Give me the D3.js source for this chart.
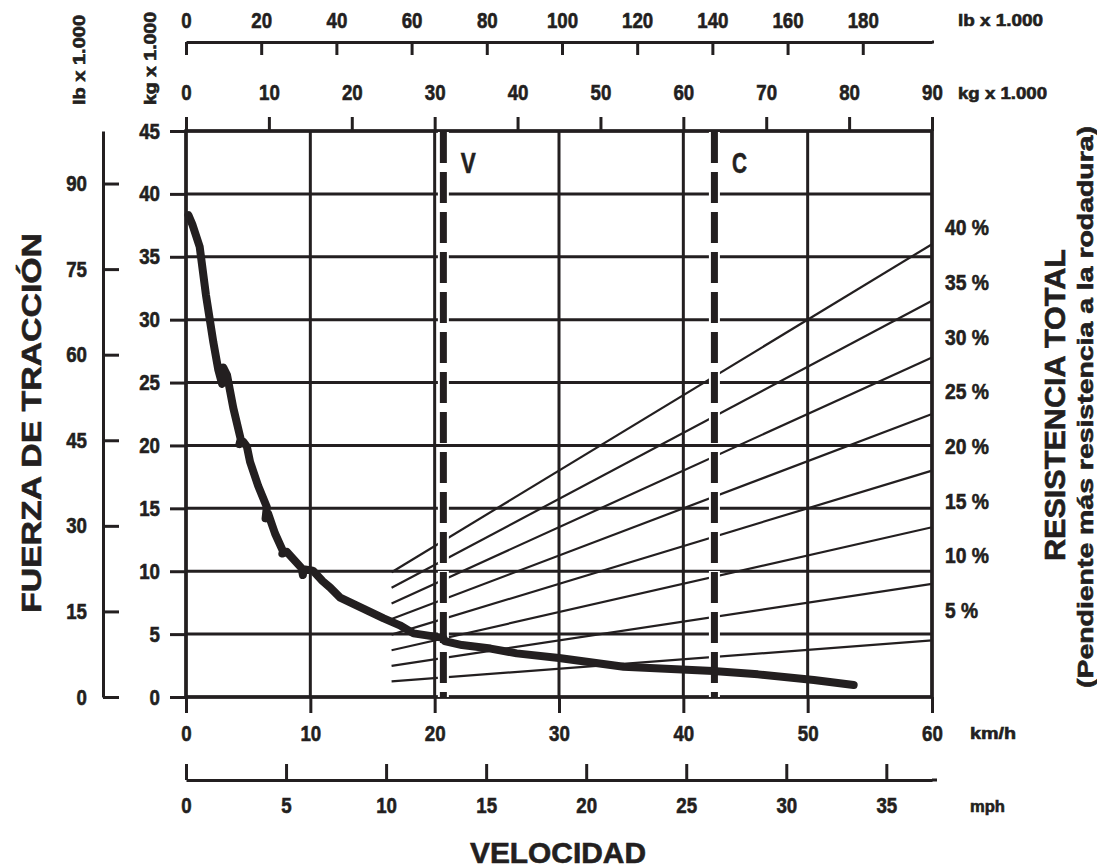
<!DOCTYPE html>
<html><head><meta charset="utf-8">
<script src="https://cdn.jsdelivr.net/npm/d3@7"></script>
<style>
html,body{margin:0;padding:0;background:#fff;}
svg{display:block;}
text{font-family:'Liberation Sans',Arial,sans-serif;font-weight:bold;fill:#231f20;stroke:#231f20;stroke-width:0.6px;}
</style></head>
<body><svg id="c" width="1097" height="868"></svg>
<script>
// ---- data ----
const kmhTicks = [0,10,20,30,40,50,60];
const mphTicks = [0,5,10,15,20,25,30,35];
const kgTopTicks = [0,10,20,30,40,50,60,70,80,90];
const lbTopTicks = [0,20,40,60,80,100,120,140,160,180];
const kgLeftTicks = [0,5,10,15,20,25,30,35,40,45];
const lbLeftTicks = [0,15,30,45,60,75,90];
const gradePct = [5,10,15,20,25,30,35,40];
const gradeWeightRange = [24.8, 90];          // kg x 1000 (gross weight)
const limitKmh = [20.7, 42.5];
const limitNames = ["V","C"];
const curveKmh = [0.2,0.5,1.1,1.6,2.2,2.6,2.9,3.0,3.0,3.3,3.8,4.4,4.3,4.6,4.9,5.15,5.8,6.5,6.4,6.6,7.16,7.8,7.75,8.1,9.3,9.4,9.45,10.2,11.0,11.6,12.4,14.3,15.9,17.2,18.3,20.7,20.8,22.2,24.5,26.6,30,35.2,42.4,46,50.5,53.7];
const curveKg  = [38.3,37.6,35.8,32.0,28.2,26.0,24.9,25.3,26.2,25.6,23.0,20.5,20.1,20.3,19.9,18.7,16.8,15.1,14.2,14.6,13.0,11.6,11.4,11.55,10.25,9.7,10.15,10.05,9.2,8.7,7.9,7.0,6.25,5.7,5.06,4.7,4.45,4.13,3.85,3.47,3.1,2.4,2.07,1.8,1.35,0.95];

// ---- layout ----
const ink = "#231f20";
const svg = d3.select("#c");
const L = 186, R = 932, T = 131, B = 697;
const x = d3.scaleLinear([0,60],[L,R]);
const xMph = d3.scaleLinear([0,60/1.609344],[L,R]);
const xKg = d3.scaleLinear([0,90],[L,R]);
const xLb = d3.scaleLinear([0,90*2.20462],[L,R]);
const y = d3.scaleLinear([0,45],[B,T]);
const yLb = d3.scaleLinear([0,45*2.20462],[B,T]);

function squeeze(sel, perChar){
  sel.each(function(){
    const n = this.textContent.length;
    d3.select(this).attr("textLength", n*perChar).attr("lengthAdjust","spacingAndGlyphs");
  });
}
function fit(sel, len){ sel.attr("textLength", len).attr("lengthAdjust","spacingAndGlyphs"); return sel; }

function styleAxis(g, fs, sw){
  g.attr("font-family", null).attr("font-size", null);
  g.selectAll("text").attr("font-size", fs).attr("fill",ink);
  g.selectAll("line").attr("stroke", ink).attr("stroke-width", sw);
  g.selectAll("path.domain").attr("stroke", ink).attr("stroke-width", sw);
  squeeze(g.selectAll("text"), 10.4);
}

// grid
const grid = svg.append("g");
grid.selectAll("line.h").data(kgLeftTicks).join("line")
  .attr("x1", L).attr("x2", R).attr("y1", d=>y(d)).attr("y2", d=>y(d))
  .attr("stroke", ink).attr("stroke-width", 3);
grid.selectAll("line.v").data(kmhTicks).join("line")
  .attr("x1", d=>x(d)).attr("x2", d=>x(d)).attr("y1", T).attr("y2", B)
  .attr("stroke", ink).attr("stroke-width", 3);

// axes
const gKgL = svg.append("g").attr("transform",`translate(${L},0)`)
  .call(d3.axisLeft(y).tickValues(kgLeftTicks).tickSizeInner(16).tickSizeOuter(0).tickPadding(10));
gKgL.select("path.domain").remove();
styleAxis(gKgL, 22, 3);

const gLbL = svg.append("g").attr("transform",`translate(103,0)`)
  .call(d3.axisLeft(yLb).tickValues(lbLeftTicks).tickSizeInner(-16).tickSizeOuter(0).tickPadding(16));
styleAxis(gLbL, 22, 3);

const gKgT = svg.append("g").attr("transform",`translate(0,${T})`)
  .call(d3.axisTop(xKg).tickValues(kgTopTicks).tickSizeInner(14).tickSizeOuter(0).tickPadding(17));
gKgT.select("path.domain").remove();
styleAxis(gKgT, 22, 3);

const gLbT = svg.append("g").attr("transform",`translate(0,42)`)
  .call(d3.axisTop(xLb).tickValues(lbTopTicks).tickSizeInner(-13).tickSizeOuter(0).tickPadding(14));
styleAxis(gLbT, 22, 3);
gLbT.append("line").attr("x1",R).attr("x2",R+2).attr("stroke",ink).attr("stroke-width",3);

const gKmh = svg.append("g").attr("transform",`translate(0,${B})`)
  .call(d3.axisBottom(x).tickValues(kmhTicks).tickSizeInner(16).tickSizeOuter(0).tickPadding(12));
gKmh.select("path.domain").remove();
styleAxis(gKmh, 22, 3);

const gMph = svg.append("g").attr("transform",`translate(0,780)`)
  .call(d3.axisBottom(xMph).tickValues(mphTicks).tickSizeInner(-16).tickSizeOuter(0).tickPadding(17));
styleAxis(gMph, 22, 3);
gMph.append("line").attr("x1",R).attr("x2",R+5).attr("stroke",ink).attr("stroke-width",3);

// plot border
svg.append("rect").attr("x",L).attr("y",T).attr("width",R-L).attr("height",B-T)
  .attr("fill","none").attr("stroke",ink).attr("stroke-width",3.5);

// grade resistance lines
const gradeLine = d3.line().x(d=>xKg(d[0])).y(d=>y(d[1]));
svg.append("g").selectAll("path").data(gradePct).join("path")
  .attr("d", p => gradeLine(gradeWeightRange.map(w => [w, w*p/100])))
  .attr("fill","none").attr("stroke",ink).attr("stroke-width",2.2);

// percent labels
const pl = svg.append("g").selectAll("text").data(gradePct).join("text")
  .attr("x", 945).attr("y", p => y(0.8697*p + 2.57) + 8)
  .attr("font-size", 22).text(p => p + " %");
pl.each(function(p){ fit(d3.select(this), p < 10 ? 33 : 44); });

// limit dashed lines
const lim = svg.append("g");
lim.selectAll("line.halo").data(limitKmh).join("line")
  .attr("x1", d=>x(d)).attr("x2", d=>x(d)).attr("y1", T+1).attr("y2", B)
  .attr("stroke","#fff").attr("stroke-width",11)
  .attr("stroke-dasharray","33 7").attr("stroke-dashoffset",1);
lim.selectAll("line.dash").data(limitKmh).join("line")
  .attr("x1", d=>x(d)).attr("x2", d=>x(d)).attr("y1", T+1).attr("y2", B)
  .attr("stroke",ink).attr("stroke-width",7)
  .attr("stroke-dasharray","31 9");
lim.selectAll("text").data(limitKmh).join("text")
  .attr("x", d=>x(d)+25).attr("y", 173).attr("text-anchor","middle")
  .attr("font-size", 29).text((d,i)=>limitNames[i])
  .attr("textLength", 15).attr("lengthAdjust","spacingAndGlyphs");

// rimpull curve
const curve = d3.line().x(d=>x(d[0])).y(d=>y(d[1]));
svg.append("path").attr("d", curve(curveKmh.map((v,i)=>[v, curveKg[i]])))
  .attr("fill","none").attr("stroke",ink).attr("stroke-width",8)
  .attr("stroke-linejoin","round").attr("stroke-linecap","round");

// unit labels
fit(svg.append("text").attr("x",958).attr("y",26).attr("font-size",16).text("lb x 1.000"), 85);
fit(svg.append("text").attr("x",958).attr("y",99).attr("font-size",16).text("kg x 1.000"), 89);
fit(svg.append("text").attr("x",970).attr("y",739).attr("font-size",16).text("km/h"), 46);
fit(svg.append("text").attr("x",970).attr("y",812).attr("font-size",16).text("mph"), 35);
fit(svg.append("text").attr("transform","translate(85,105) rotate(-90)").attr("font-size",16).text("lb x 1.000"), 90);
fit(svg.append("text").attr("transform","translate(156,105) rotate(-90)").attr("font-size",16).text("kg x 1.000"), 93);

// titles
fit(svg.append("text").attr("transform","translate(41,423) rotate(-90)").attr("text-anchor","middle")
  .attr("font-size",28).text("FUERZA DE TRACCIÓN"), 380);
fit(svg.append("text").attr("transform","translate(1065,405) rotate(-90)").attr("text-anchor","middle")
  .attr("font-size",29).text("RESISTENCIA TOTAL"), 312);
fit(svg.append("text").attr("transform","translate(1093,407) rotate(-90)").attr("text-anchor","middle")
  .attr("font-size",22).text("(Pendiente más resistencia a la rodadura)"), 562);
fit(svg.append("text").attr("x",558).attr("y",863).attr("text-anchor","middle")
  .attr("font-size",29).text("VELOCIDAD"), 176);
</script></body></html>
